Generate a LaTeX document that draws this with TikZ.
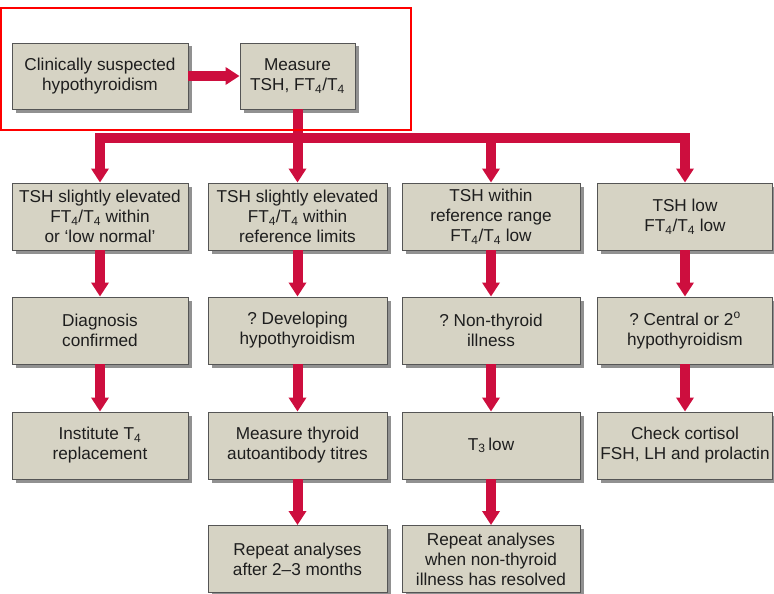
\documentclass[tikz,border=0pt]{standalone}
\usepackage{fontspec}
\setmainfont{Liberation Sans}
\usetikzlibrary{arrows.meta,shadows}
\definecolor{boxfill}{RGB}{214,211,196}
\definecolor{boxline}{RGB}{85,85,85}
\definecolor{shade}{RGB}{145,145,145}
\definecolor{flowred}{RGB}{205,14,62}
\definecolor{ink}{RGB}{30,30,30}
\tikzset{
  box/.style={draw=boxline, fill=boxfill, line width=0.9pt, align=center, inner sep=0pt,
    text=ink, font=\fontsize{17.2}{20}\selectfont\frenchspacing, minimum height=67pt,
    drop shadow={shadow xshift=3.5pt, shadow yshift=-3.5pt, fill=shade, opacity=1}},
  link/.style={draw=flowred, line width=10pt, line join=miter},
  flow/.style={link, -{Triangle[width=17pt,length=14pt]}}
}
\def\ft{FT\textsubscript{4}/T\textsubscript{4}}

\begin{document}
\begin{tikzpicture}[x=1pt,y=-1pt]
\useasboundingbox (0,0) rectangle (774,594);

\node[box, minimum width=176pt, minimum height=66pt] (S) at (100,76) {Clinically suspected\\hypothyroidism};
\node[box, minimum width=115pt, minimum height=66pt] (M) at (297.5,76) {Measure\\TSH, \ft};
\coordinate (J) at (297.5,137.5);

\node[box, minimum width=176pt] (A1) at (100,216.5) {TSH slightly elevated\\\ft{} within\\or ‘low normal’};
\node[box, minimum width=179pt] (B1) at (297.5,216.5) {TSH slightly elevated\\\ft{} within\\reference limits};
\node[box, minimum width=178pt] (C1) at (491,216.5) {TSH within\\reference range\\\ft{} low};
\node[box, minimum width=175pt] (D1) at (685,216.5) {TSH low\\\ft{} low};

\node[box, minimum width=176pt] (A2) at (100,330.5) {Diagnosis\\confirmed};
\node[box, minimum width=179pt] (B2) at (297.5,330.5) {? Developing\\hypothyroidism};
\node[box, minimum width=178pt] (C2) at (491,330.5) {? Non-thyroid\\illness};
\node[box, minimum width=175pt] (D2) at (685,330.5) {? Central or 2\textsuperscript{o}\\hypothyroidism};

\node[box, minimum width=176pt] (A3) at (100,445.5) {Institute T\textsubscript{4}\\replacement};
\node[box, minimum width=179pt] (B3) at (297.5,445.5) {Measure thyroid\\autoantibody titres};
\node[box, minimum width=178pt] (C3) at (491,445.5) {T\textsubscript{3}\,low};
\node[box, minimum width=175pt] (D3) at (685,445.5) {Check cortisol\\FSH, LH and prolactin};

\node[box, minimum width=179pt] (B4) at (297.5,559) {Repeat analyses\\after 2–3 months};
\node[box, minimum width=178pt] (C4) at (491,559) {Repeat analyses\\when non-thyroid\\illness has resolved};

\draw[flow] (S) -- (M);
\draw[link] (M) -- (J);
\draw[flow] (J) -| (A1);
\draw[flow] (J) -- (B1);
\draw[flow] (J) -| (C1);
\draw[flow] (J) -| (D1);
\foreach \c in {A,B,C,D}{
  \draw[flow] (\c1) -- (\c2);
  \draw[flow] (\c2) -- (\c3);
}
\draw[flow] (B3) -- (B4);
\draw[flow] (C3) -- (C4);

\draw[red, line width=1.6pt] (1,8) rectangle (411,130);
\end{tikzpicture}
\end{document}
